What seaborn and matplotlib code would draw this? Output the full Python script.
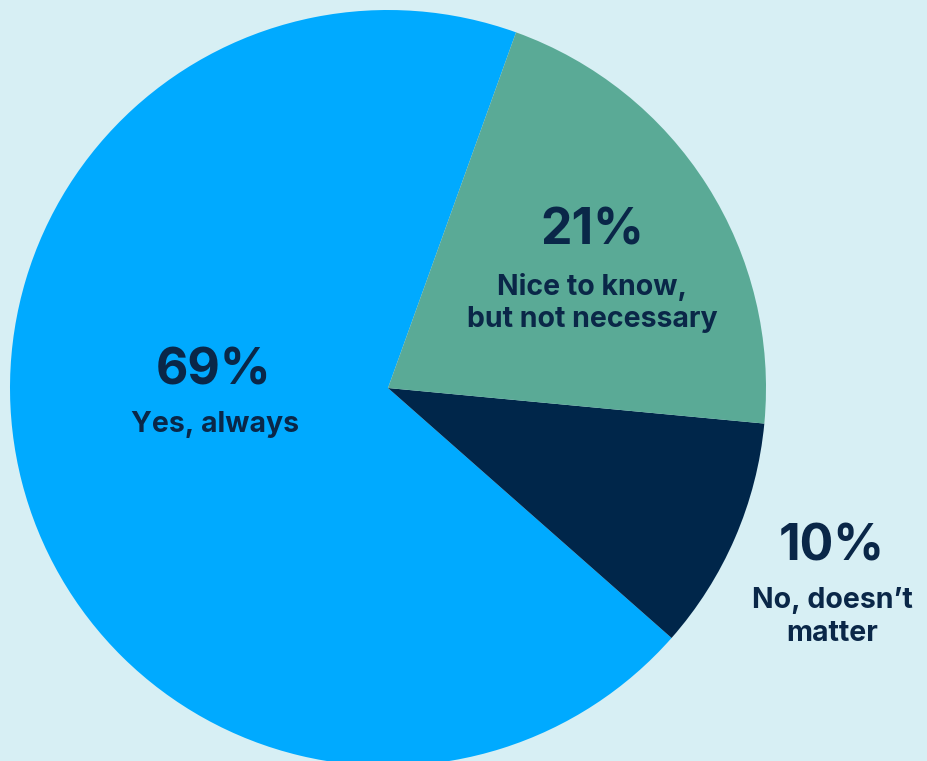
import matplotlib
matplotlib.use("Agg")
import matplotlib.pyplot as plt
import seaborn as sns

# Survey answers and their shares (%)
categories = ["Yes, always", "No, doesn\u2019t\nmatter", "Nice to know,\nbut not necessary"]
shares = [69, 10, 21]
colors = ["#00AAFF", "#00264A", "#5AAA96"]

BG = "#D7EFF4"
INK = "#0A2748"

sns.set_theme(style="white")
plt.rcParams["font.family"] = ["Inter", "DejaVu Sans"]

W, H = 928, 761
fig = plt.figure(figsize=(W / 100, H / 100), dpi=100, facecolor=BG)
ax = fig.add_axes([0, 0, 1, 1])
ax.set_facecolor(BG)

cx, cy, r = 388, H - 388, 378
ax.pie(shares, colors=colors, startangle=70.2, counterclock=True,
       center=(cx, cy), radius=r, frame=True,
       wedgeprops=dict(linewidth=0))
ax.set_xlim(0, W)
ax.set_ylim(0, H)
ax.set_aspect("equal")
ax.axis("off")

# Label anchors (pixel positions from top-left)
label_pos = [(214, 371, 215, 425), (832, 547, 832, 617), (592, 231, 592, 303)]
for cat, val, (nx, ny, lx, ly) in zip(categories, shares, label_pos):
    ax.text(nx, H - ny, f"{val}%", ha="center", va="center",
            fontsize=36, fontweight="bold", color=INK)
    ax.text(lx, H - ly, cat, ha="center", va="center",
            fontsize=20.5, fontweight="bold", color=INK, linespacing=1.28)

fig.savefig("out.png", dpi=100, facecolor=BG)
